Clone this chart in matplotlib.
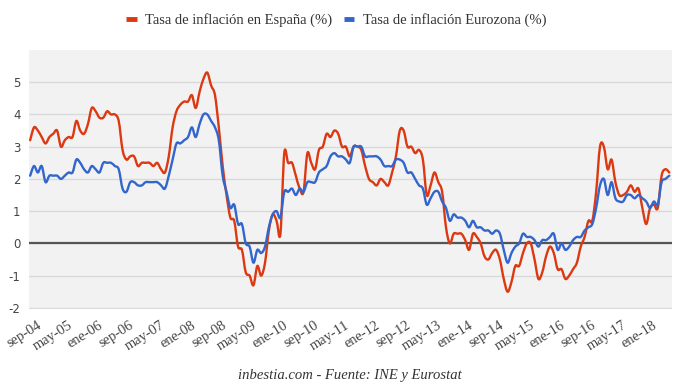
import numpy as np
import matplotlib
matplotlib.use("Agg")
import matplotlib.pyplot as plt
from matplotlib.lines import Line2D
from matplotlib.path import Path
from matplotlib.patches import PathPatch
import matplotlib.transforms as mtransforms

# Tasa de inflacion mensual, desde sep-04 hasta jul-18
espana = [
    3.2, 3.6, 3.5, 3.3,
    3.1, 3.3, 3.4, 3.5, 3.0, 3.2, 3.3, 3.3, 3.8, 3.5, 3.4, 3.7,
    4.2, 4.1, 3.9, 3.9, 4.1, 4.0, 4.0, 3.8, 2.9, 2.6, 2.7, 2.7,
    2.4, 2.5, 2.5, 2.5, 2.4, 2.5, 2.3, 2.2, 2.7, 3.6, 4.1, 4.3,
    4.4, 4.4, 4.6, 4.2, 4.7, 5.1, 5.3, 4.9, 4.6, 3.6, 2.4, 1.5,
    0.8, 0.7, -0.1, -0.2, -0.9, -1.0, -1.3, -0.7, -1.0, -0.6, 0.4, 0.9,
    0.7, 0.3, 2.8, 2.5, 2.5, 2.1, 1.7, 1.6, 2.8, 2.5, 2.3, 2.9,
    3.0, 3.4, 3.3, 3.5, 3.4, 3.0, 3.0, 2.7, 3.0, 3.0, 2.9, 2.4,
    2.0, 1.9, 1.8, 2.0, 1.9, 1.8, 2.2, 2.7, 3.5, 3.5, 3.0, 3.0,
    2.8, 2.9, 2.6, 1.5, 1.8, 2.2, 1.9, 1.6, 0.5, 0.0, 0.3, 0.3,
    0.3, 0.1, -0.2, 0.3, 0.2, 0.0, -0.4, -0.5, -0.3, -0.2, -0.5, -1.1,
    -1.5, -1.2, -0.7, -0.7, -0.3, 0.0, 0.0, -0.5, -1.1, -0.9, -0.4, -0.1,
    -0.3, -0.8, -0.8, -1.1, -1.0, -0.8, -0.6, -0.1, 0.2, 0.7, 0.7, 1.6,
    3.0, 3.0, 2.3, 2.6, 1.9, 1.5, 1.5, 1.6, 1.8, 1.6, 1.7, 1.1,
    0.6, 1.1, 1.2, 1.1, 2.1, 2.3, 2.2,
]

eurozona = [
    2.1, 2.4, 2.2, 2.4,
    1.9, 2.1, 2.1, 2.1, 2.0, 2.1, 2.2, 2.2, 2.6, 2.5, 2.3, 2.2,
    2.4, 2.3, 2.2, 2.5, 2.5, 2.5, 2.4, 2.3, 1.7, 1.6, 1.9, 1.9,
    1.8, 1.8, 1.9, 1.9, 1.9, 1.9, 1.8, 1.7, 2.1, 2.6, 3.1, 3.1,
    3.2, 3.3, 3.6, 3.3, 3.7, 4.0, 4.0, 3.8, 3.6, 3.2, 2.1, 1.6,
    1.1, 1.2, 0.6, 0.6, 0.0, -0.1, -0.6, -0.2, -0.3, -0.1, 0.5, 0.9,
    1.0, 0.8, 1.6, 1.6, 1.7, 1.5, 1.7, 1.6, 1.9, 1.9, 1.9, 2.2,
    2.3, 2.4, 2.7, 2.8, 2.7, 2.7, 2.6, 2.5, 3.0, 3.0, 3.0, 2.7,
    2.7, 2.7, 2.7, 2.6, 2.4, 2.4, 2.4, 2.6, 2.6, 2.5, 2.2, 2.2,
    2.0, 1.8, 1.7, 1.2, 1.4, 1.6, 1.6, 1.3, 1.1, 0.7, 0.9, 0.8,
    0.8, 0.7, 0.5, 0.7, 0.5, 0.5, 0.4, 0.4, 0.3, 0.4, 0.3, -0.2,
    -0.6, -0.3, -0.1, 0.0, 0.3, 0.2, 0.2, 0.1, -0.1, 0.1, 0.1, 0.2,
    0.3, -0.2, 0.0, -0.2, -0.1, 0.1, 0.2, 0.2, 0.4, 0.5, 0.6, 1.1,
    1.8, 2.0, 1.5, 1.9, 1.4, 1.3, 1.3, 1.5, 1.5, 1.4, 1.5, 1.4,
    1.3, 1.1, 1.3, 1.2, 1.9, 2.0, 2.1,
]

etiquetas = ["sep-04", "may-05", "ene-06", "sep-06", "may-07", "ene-08", "sep-08",
             "may-09", "ene-10", "sep-10", "may-11", "ene-12", "sep-12", "may-13",
             "ene-14", "sep-14", "may-15", "ene-16", "sep-16", "may-17", "ene-18"]
paso_etiquetas = 8  # meses entre etiquetas

rojo = "#dc3912"
azul = "#3366cc"


def curva_suave(x, y):
    """Trazo con curvas de Bezier que pasa por cada punto (como curveType 'function')."""
    p = np.column_stack([x, y]).astype(float)
    ext = np.vstack([p[0], p, p[-1]])
    verts = [p[0]]
    codes = [Path.MOVETO]
    for i in range(len(p) - 1):
        p0, p1, p2, p3 = ext[i], ext[i + 1], ext[i + 2], ext[i + 3]
        verts += [p1 + (p2 - p0) / 6.0, p2 - (p3 - p1) / 6.0, p2]
        codes += [Path.CURVE4] * 3
    return Path(verts, codes)


meses = np.arange(len(espana))

fig = plt.figure(figsize=(6.8, 3.89), dpi=100)
ax = fig.add_axes([29 / 680, 1 - 308.5 / 389, 643 / 680, 258.5 / 389])
ax.set_facecolor("#f2f2f2")

for serie, color in [(espana, rojo), (eurozona, azul)]:
    ax.add_patch(PathPatch(curva_suave(meses, serie), fill=False, edgecolor=color,
                           lw=1.7, joinstyle="round", capstyle="round", zorder=3))
ax.axhline(0, color="#555555", lw=1.6, zorder=2)

ax.set_xlim(-0.3, 166.7)
ax.set_ylim(-2.02, 6.0)
ax.set_yticks(range(-2, 6))
ax.set_yticklabels([str(v) for v in range(-2, 6)], fontsize=8.5, color="#444444",
                   family="DejaVu Sans")
ax.grid(axis="y", color="#d9d9d9", lw=1, zorder=1)
ax.set_axisbelow(True)

# etiquetas inclinadas del eje x, con el extremo derecho junto a la marca
ax.set_xticks([])
trans = mtransforms.blended_transform_factory(ax.transData, ax.transAxes) + \
    mtransforms.ScaledTranslation(10 / 100, -15.5 / 100, fig.dpi_scale_trans)
for i, txt in enumerate(etiquetas):
    ax.text(i * paso_etiquetas, 0, txt, transform=trans, rotation=32, ha="right",
            va="center", rotation_mode="anchor", fontsize=10.4, color="#444444",
            family="Liberation Serif", clip_on=False)

ax.tick_params(axis="both", length=0)
ax.tick_params(axis="y", pad=6)
for s in ax.spines.values():
    s.set_visible(False)

handles = [Line2D([], [], color=rojo, lw=3.5, solid_capstyle="butt"),
           Line2D([], [], color=azul, lw=3.5, solid_capstyle="butt")]
fig.legend(handles, ["Tasa de inflación en España (%)", "Tasa de inflación Eurozona (%)"],
           loc="center", bbox_to_anchor=(336.5 / 680, 1 - 20 / 389), ncol=2, frameon=False,
           handlelength=0.7, handletextpad=0.6, columnspacing=0.8,
           prop={"family": "Liberation Serif", "size": 10.5}, labelcolor="#333333")

fig.text(350 / 680, 1 - 375 / 389, "inbestia.com - Fuente: INE y Eurostat", ha="center",
         va="center", fontsize=10.5, style="italic", family="Liberation Serif",
         color="#333333")

fig.savefig("out.png", dpi=100)
